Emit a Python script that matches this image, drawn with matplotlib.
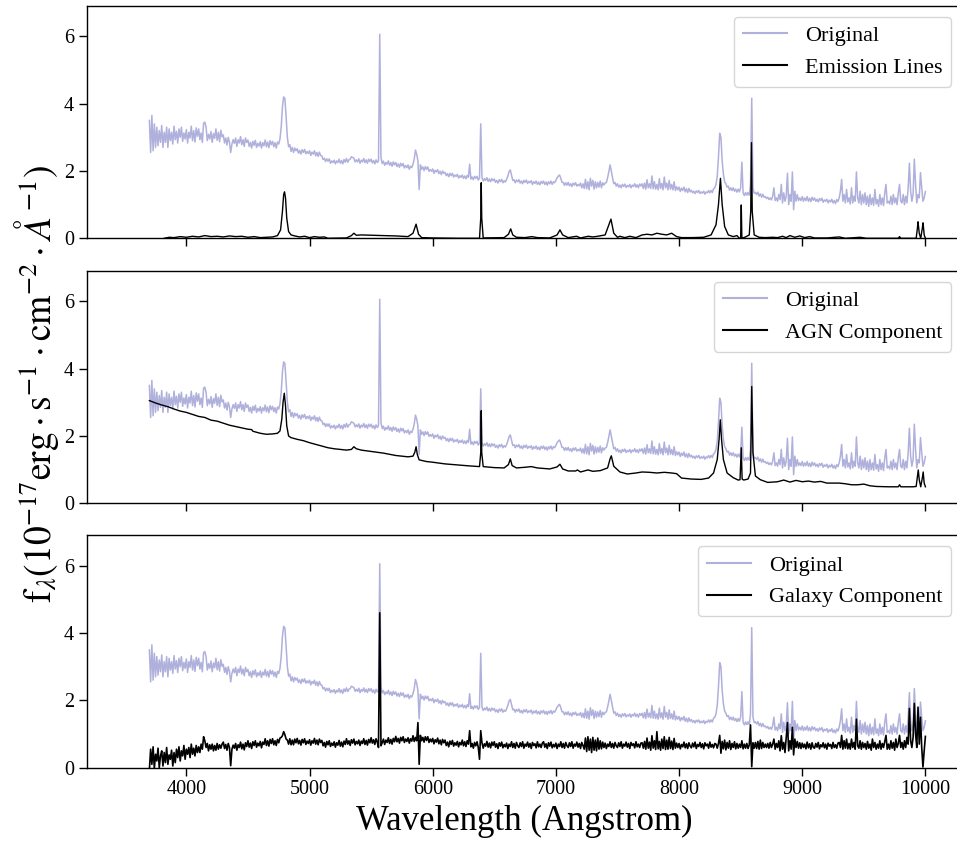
import numpy as np
import matplotlib
matplotlib.use("Agg")
import matplotlib.pyplot as plt

plt.rcParams['font.family'] = ['Liberation Serif', 'DejaVu Serif']
plt.rcParams['mathtext.fontset'] = 'stix'

# ---------------- data ----------------
# wavelength grid of the observed spectrum (Angstrom), 10 A sampling 3700..10000
wave = np.arange(3700, 10001, 10)

original_flux = [
    # 3700-3890
    3.5, 2.55, 3.65, 2.6, 3.4, 2.7, 3.3, 2.75, 3.2, 2.85, 3.35, 2.7, 3.15, 2.85, 3.3, 2.7, 3.25, 2.9, 3.15, 2.8,
    # 3900-4090
    3.33, 2.93, 3.18, 2.83, 3.25, 3.0, 3.3, 2.88, 3.13, 2.95, 3.23, 2.83, 3.15, 2.98, 3.33, 2.9, 3.2, 2.86, 3.28, 3.03,
    # 4100-4290
    3.25, 2.93, 3.13, 2.85, 3.42, 3.45, 3.3, 2.9, 3.09, 2.95, 3.17, 2.85, 3.11, 2.97, 3.25, 2.91, 3.15, 2.87, 3.21, 3.01,
    # 4300-4490
    3.07, 2.83, 2.98, 2.77, 3.0, 2.86, 2.55, 2.8, 2.93, 2.82, 2.98, 2.73, 2.93, 2.83, 3.02, 2.78, 2.93, 2.73, 2.98, 2.85,
    # 4500-4690
    2.92, 2.73, 2.85, 2.68, 2.88, 2.76, 2.91, 2.7, 2.82, 2.74, 2.87, 2.68, 2.84, 2.75, 2.92, 2.72, 2.86, 2.69, 2.9, 2.78,
    # 4700-4890
    2.88, 2.72, 2.84, 2.68, 2.86, 2.8, 2.95, 3.3, 3.9, 4.2, 4.15, 3.6, 3.0, 2.72, 2.78, 2.58, 2.7, 2.55, 2.68, 2.6,
    # 4900-5090
    2.66, 2.53, 2.61, 2.5, 2.63, 2.55, 2.64, 2.51, 2.58, 2.52, 2.6, 2.46, 2.56, 2.5, 2.6, 2.45, 2.55, 2.43, 2.56, 2.46,
    # 5100-5290
    2.45, 2.34, 2.38, 2.28, 2.36, 2.29, 2.36, 2.23, 2.3, 2.25, 2.32, 2.21, 2.3, 2.25, 2.35, 2.23, 2.31, 2.21, 2.34, 2.26,
    # 5300-5490
    2.37, 2.26, 2.33, 2.35, 2.42, 2.4, 2.38, 2.27, 2.33, 2.27, 2.36, 2.23, 2.32, 2.27, 2.37, 2.25, 2.33, 2.23, 2.35, 2.28,
    # 5500-5690
    2.35, 2.24, 2.31, 2.21, 2.33, 2.25, 2.3, 6.06, 2.4, 2.22, 2.29, 2.17, 2.25, 2.2, 2.3, 2.17, 2.25, 2.14, 2.27, 2.18,
    # 5700-5890
    2.25, 2.13, 2.21, 2.11, 2.23, 2.15, 2.22, 2.09, 2.16, 2.1, 2.18, 2.05, 2.14, 2.1, 2.2, 2.35, 2.62, 2.5, 2.3, 1.45,
    # 5900-6090
    2.18, 2.05, 2.12, 2.01, 2.13, 2.05, 2.12, 1.99, 2.04, 1.99, 2.06, 1.93, 2.02, 1.97, 2.04, 1.92, 1.99, 1.89, 2.0, 1.93,
    # 6100-6290
    1.96, 1.86, 1.92, 1.83, 1.93, 1.86, 1.93, 1.82, 1.88, 1.84, 1.9, 1.79, 1.86, 1.81, 1.88, 1.78, 1.85, 1.77, 1.87, 1.81,
    # 6300-6490
    2.2, 1.76, 1.82, 1.74, 1.84, 1.78, 1.84, 1.73, 1.79, 3.4, 1.8, 1.7, 1.77, 1.72, 1.8, 1.69, 1.76, 1.68, 1.77, 1.71,
    # 6500-6690
    1.76, 1.66, 1.72, 1.64, 1.74, 1.68, 1.75, 1.65, 1.71, 1.67, 1.75, 1.85, 1.98, 2.03, 1.88, 1.72, 1.74, 1.65, 1.73, 1.68,
    # 6700-6890
    1.74, 1.64, 1.7, 1.62, 1.72, 1.66, 1.73, 1.63, 1.69, 1.65, 1.71, 1.6, 1.68, 1.63, 1.7, 1.6, 1.67, 1.59, 1.69, 1.63,
    # 6900-7090
    1.7, 1.6, 1.67, 1.58, 1.68, 1.62, 1.7, 1.6, 1.68, 1.65, 1.72, 1.8, 1.85, 1.88, 1.78, 1.66, 1.66, 1.57, 1.65, 1.58,
    # 7100-7290
    1.66, 1.56, 1.62, 1.54, 1.64, 1.58, 1.65, 1.55, 1.6, 1.56, 1.64, 1.5, 1.62, 1.48, 1.75, 1.47, 1.68, 1.44, 1.78, 1.55,
    # 7300-7490
    1.72, 1.46, 1.68, 1.5, 1.66, 1.52, 1.7, 1.5, 1.65, 1.58, 1.64, 1.66, 1.8, 1.98, 2.18, 2.0, 1.8, 1.62, 1.66, 1.55,
    # 7500-7690
    1.62, 1.52, 1.58, 1.5, 1.6, 1.54, 1.61, 1.51, 1.57, 1.53, 1.6, 1.5, 1.58, 1.54, 1.62, 1.52, 1.59, 1.5, 1.61, 1.55,
    # 7700-7890
    1.62, 1.48, 1.64, 1.46, 1.74, 1.5, 1.62, 1.48, 1.85, 1.47, 1.68, 1.46, 1.6, 1.44, 1.77, 1.48, 1.63, 1.44, 1.82, 1.5,
    # 7900-8090
    1.64, 1.44, 1.72, 1.46, 1.6, 1.44, 1.68, 1.42, 1.53, 1.44, 1.52, 1.39, 1.49, 1.42, 1.52, 1.38, 1.47, 1.36, 1.48, 1.38,
    # 8100-8290
    1.43, 1.35, 1.4, 1.33, 1.41, 1.36, 1.42, 1.33, 1.38, 1.34, 1.4, 1.31, 1.38, 1.35, 1.42, 1.35, 1.42, 1.36, 1.47, 1.5,
    # 8300-8490
    1.6, 1.85, 2.4, 3.12, 3.0, 2.3, 1.9, 1.68, 1.62, 1.52, 1.55, 1.43, 1.5, 1.42, 1.5, 1.4, 1.46, 1.37, 1.46, 1.38,
    # 8500-8690
    1.5, 2.26, 1.35, 1.27, 1.36, 1.28, 1.36, 1.28, 1.6, 4.16, 1.5, 1.34, 1.36, 1.3, 1.37, 1.25, 1.32, 1.22, 1.31, 1.22,
    # 8700-8890
    1.24, 1.18, 1.22, 1.15, 1.2, 1.14, 1.25, 1.5, 1.12, 1.2, 1.1, 1.3, 1.15, 1.6, 1.05, 1.35, 1.1, 1.25, 1.93, 1.0,
    # 8900-9090
    1.3, 1.1, 1.97, 0.85, 1.4, 1.1, 1.3, 1.12, 1.2, 1.12, 1.24, 1.1, 1.2, 1.12, 1.24, 1.1, 1.19, 1.09, 1.22, 1.13,
    # 9100-9290
    1.2, 1.1, 1.16, 1.08, 1.18, 1.12, 1.19, 1.07, 1.14, 1.1, 1.16, 1.05, 1.13, 1.08, 1.16, 1.05, 1.12, 1.03, 1.15, 1.09,
    # 9300-9490
    1.2, 1.4, 1.75, 1.1, 1.3, 1.05, 1.45, 1.08, 1.2, 1.02, 1.5, 1.05, 1.25, 1.1, 1.97, 1.2, 1.05, 1.4, 1.0, 1.3,
    # 9500-9690
    1.05, 1.35, 1.0, 1.25, 0.95, 1.3, 1.0, 1.2, 0.98, 1.45, 1.02, 1.15, 0.95, 1.3, 1.0, 1.2, 0.97, 1.35, 1.6, 1.05,
    # 9700-9890
    1.1, 1.02, 1.25, 1.0, 1.3, 1.05, 1.2, 1.0, 1.35, 1.6, 1.1, 1.05, 1.3, 1.0, 1.25, 1.05, 1.5, 2.23, 1.4, 1.1,
    # 9900-10000
    1.3, 2.35, 1.6, 1.05, 1.3, 1.2, 1.95, 1.5, 1.1, 1.2, 1.39,
]

galaxy_flux = [
    # 3700-3890
    -0.05, 0.55, 0.1, 0.62, -0.02, 0.4, 0.2, 0.58, 0.0, 0.35, 0.5, 0.05, 0.45, 0.15, 0.6, 0.1, 0.38, 0.25, 0.52, 0.05,
    # 3900-4090
    0.45, 0.15, 0.55, 0.3, 0.62, 0.2, 0.5, 0.35, 0.66, 0.25, 0.55, 0.4, 0.6, 0.3, 0.7, 0.4, 0.58, 0.35, 0.66, 0.45,
    # 4100-4290
    0.62, 0.45, 0.7, 0.55, 0.92, 0.8, 0.6, 0.72, 0.5, 0.68, 0.55, 0.7, 0.5, 0.66, 0.52, 0.72, 0.55, 0.68, 0.58, 0.7,
    # 4300-4490
    0.76, 0.57, 0.69, 0.52, 0.72, 0.6, 0.06, 0.55, 0.67, 0.58, 0.72, 0.52, 0.68, 0.6, 0.76, 0.56, 0.7, 0.53, 0.74, 0.63,
    # 4500-4690
    0.8, 0.61, 0.73, 0.57, 0.77, 0.66, 0.8, 0.61, 0.73, 0.65, 0.78, 0.59, 0.76, 0.69, 0.86, 0.66, 0.8, 0.64, 0.84, 0.72,
    # 4700-4890
    0.86, 0.68, 0.8, 0.66, 0.84, 0.74, 0.88, 0.9, 0.95, 1.07, 0.98, 0.85, 0.82, 0.7, 0.86, 0.68, 0.82, 0.68, 0.85, 0.74,
    # 4900-5090
    0.87, 0.71, 0.81, 0.67, 0.84, 0.74, 0.86, 0.69, 0.79, 0.72, 0.83, 0.67, 0.8, 0.73, 0.87, 0.7, 0.82, 0.68, 0.85, 0.75,
    # 5100-5290
    0.81, 0.65, 0.75, 0.61, 0.78, 0.68, 0.8, 0.63, 0.73, 0.66, 0.77, 0.61, 0.74, 0.67, 0.81, 0.64, 0.76, 0.62, 0.79, 0.69,
    # 5300-5490
    0.86, 0.7, 0.8, 0.66, 0.83, 0.73, 0.85, 0.68, 0.78, 0.71, 0.82, 0.66, 0.79, 0.72, 0.86, 0.69, 0.81, 0.67, 0.84, 0.74,
    # 5500-5690
    0.89, 0.73, 0.83, 0.69, 0.86, 0.76, 0.6, 4.6, 0.65, 0.74, 0.85, 0.69, 0.82, 0.75, 0.89, 0.72, 0.84, 0.7, 0.87, 0.77,
    # 5700-5890
    0.93, 0.77, 0.87, 0.73, 0.9, 0.8, 0.92, 0.75, 0.85, 0.78, 0.89, 0.73, 0.86, 0.79, 0.95, 0.78, 0.9, 0.8, 1.34, 0.1,
    # 5900-6090
    0.96, 0.8, 0.9, 0.76, 0.92, 0.81, 0.92, 0.75, 0.85, 0.77, 0.87, 0.71, 0.83, 0.76, 0.88, 0.71, 0.82, 0.68, 0.84, 0.74,
    # 6100-6290
    0.82, 0.66, 0.76, 0.62, 0.79, 0.69, 0.81, 0.64, 0.74, 0.67, 0.78, 0.62, 0.75, 0.68, 0.82, 0.65, 0.77, 0.63, 0.8, 0.7,
    # 6300-6490
    1.1, 0.62, 0.72, 0.58, 0.75, 0.65, 0.77, 0.6, 0.25, 1.1, 0.74, 0.58, 0.71, 0.64, 0.78, 0.61, 0.73, 0.59, 0.76, 0.66,
    # 6500-6690
    0.77, 0.61, 0.71, 0.57, 0.74, 0.64, 0.76, 0.59, 0.69, 0.62, 0.73, 0.57, 0.7, 0.63, 0.77, 0.6, 0.72, 0.58, 0.75, 0.65,
    # 6700-6890
    0.6, 0.74, 0.63, 0.77, 0.58, 0.7, 0.64, 0.76, 0.61, 0.72, 0.57, 0.75, 0.66, 0.71, 0.59, 0.77, 0.62, 0.7, 0.6, 0.73,
    # 6900-7090
    0.77, 0.61, 0.71, 0.57, 0.74, 0.64, 0.76, 0.59, 0.69, 0.62, 0.73, 0.57, 0.7, 0.63, 0.77, 0.6, 0.72, 0.58, 0.75, 0.65,
    # 7100-7290
    0.6, 0.74, 0.63, 0.77, 0.58, 0.7, 0.64, 0.76, 0.61, 0.72, 0.57, 0.75, 0.66, 0.55, 0.88, 0.48, 0.92, 0.52, 0.85, 0.45,
    # 7300-7490
    0.9, 0.52, 0.82, 0.5, 0.88, 0.55, 0.8, 0.56, 0.76, 0.6, 0.73, 0.57, 0.7, 0.63, 0.77, 0.6, 0.72, 0.58, 0.75, 0.65,
    # 7500-7690
    0.6, 0.74, 0.63, 0.77, 0.58, 0.7, 0.64, 0.76, 0.61, 0.72, 0.57, 0.75, 0.66, 0.71, 0.59, 0.77, 0.62, 0.7, 0.6, 0.73,
    # 7700-7890
    0.74, 0.58, 0.78, 0.55, 0.88, 0.58, 0.76, 0.52, 0.95, 0.58, 0.8, 0.54, 1.07, 0.56, 0.78, 0.52, 0.85, 0.57, 0.92, 0.54,
    # 7900-8090
    0.82, 0.55, 0.9, 0.57, 0.79, 0.54, 0.87, 0.58, 0.73, 0.6, 0.72, 0.56, 0.69, 0.62, 0.76, 0.59, 0.71, 0.57, 0.74, 0.64,
    # 8100-8290
    0.59, 0.73, 0.62, 0.76, 0.57, 0.69, 0.63, 0.75, 0.6, 0.71, 0.56, 0.74, 0.65, 0.7, 0.58, 0.76, 0.61, 0.69, 0.59, 0.72,
    # 8300-8490
    0.7, 0.58, 0.72, 0.96, 0.43, 0.78, 0.56, 0.82, 0.53, 0.75, 0.58, 0.8, 0.54, 0.72, 0.6, 0.77, 0.56, 0.72, 0.58, 0.7,
    # 8500-8690
    0.6, 0.8, 0.56, 0.7, 0.58, 0.72, 0.57, 0.68, 1.27, 0.03, 0.74, 0.58, 0.75, 0.57, 0.78, 0.55, 0.82, 0.57, 0.75, 0.6,
    # 8700-8890
    0.7, 0.6, 0.72, 0.58, 0.75, 0.6, 0.7, 0.85, 0.55, 0.72, 0.6, 0.8, 0.5, 0.95, 0.55, 0.75, 0.45, 0.9, 1.34, 0.5,
    # 8900-9090
    0.8, 0.55, 1.2, 0.38, 0.85, 0.6, 0.78, 0.58, 0.74, 0.57, 0.73, 0.6, 0.7, 0.56, 0.76, 0.59, 0.71, 0.55, 0.74, 0.6,
    # 9100-9290
    0.58, 0.72, 0.61, 0.75, 0.56, 0.68, 0.62, 0.74, 0.59, 0.7, 0.55, 0.73, 0.64, 0.69, 0.57, 0.75, 0.6, 0.68, 0.58, 0.73,
    # 9300-9490
    0.75, 0.6, 0.96, 0.55, 0.8, 0.58, 0.85, 0.56, 0.72, 0.55, 0.85, 0.6, 0.75, 0.55, 1.44, 0.65, 0.58, 0.8, 0.55, 0.75,
    # 9500-9690
    0.6, 0.72, 0.55, 0.78, 0.58, 0.7, 0.52, 0.85, 0.6, 0.75, 0.55, 0.7, 0.58, 0.8, 0.55, 0.72, 0.6, 0.78, 0.96, 0.55,
    # 9700-9890
    0.7, 0.55, 0.8, 0.58, 0.75, 0.52, 0.85, 0.6, 0.72, 0.96, 0.6, 0.75, 0.55, 0.8, 0.6, 0.9, 0.7, 1.76, 0.8, 0.6,
    # 9900-10000
    0.9, 1.91, 1.0, 0.6, 1.8, 0.7, 1.5, 0.6, 0.02, 0.5, 0.93,
]

agn_wave = [3700, 3750, 3800, 3850, 3900, 3950, 4000, 4050, 4100, 4150, 4200, 4250,
            4300, 4350, 4400, 4450, 4500, 4530, 4540, 4600, 4650, 4700, 4740, 4760,
            4775, 4785, 4795, 4805, 4815, 4830, 4850, 4900, 4950, 5000, 5050, 5100,
            5150, 5200, 5250, 5300, 5340, 5360, 5380, 5420, 5500, 5600, 5700, 5800,
            5840, 5855, 5865, 5875, 5890, 5950, 6000, 6100, 6200, 6300, 6380, 6390,
            6394, 6398, 6410, 6500, 6580, 6615, 6630, 6645, 6680, 6750, 6800, 6850,
            6950, 7010, 7033, 7055, 7100, 7160, 7175, 7200, 7260, 7300, 7360, 7420,
            7440, 7450, 7470, 7520, 7580, 7650, 7700, 7760, 7820, 7880, 7940, 7980,
            8020, 8100, 8180, 8240, 8280, 8310, 8325, 8335, 8345, 8360, 8390, 8440,
            8480, 8495, 8505, 8512, 8525, 8560, 8580, 8585, 8590, 8600, 8620, 8660,
            8720, 8800, 8850, 8900, 8950, 9000, 9050, 9100, 9150, 9200, 9250, 9300,
            9350, 9400, 9450, 9500, 9550, 9600, 9700, 9780, 9790, 9800, 9900, 9925,
            9935, 9942, 9950, 9962, 9975, 9982, 9990, 10000]
agn_flux = [3.05, 2.98, 2.92, 2.87, 2.8, 2.74, 2.7, 2.64, 2.58, 2.55, 2.47, 2.44,
            2.38, 2.32, 2.28, 2.24, 2.2, 2.19, 2.14, 2.08, 2.05, 2.06, 2.08, 2.15,
            2.5, 3.0, 3.27, 2.9, 2.3, 2.0, 1.95, 1.9, 1.86, 1.8, 1.75, 1.7,
            1.65, 1.62, 1.6, 1.58, 1.6, 1.68, 1.62, 1.58, 1.54, 1.49, 1.42, 1.38,
            1.4, 1.52, 1.68, 1.45, 1.29, 1.24, 1.22, 1.17, 1.14, 1.11, 1.09, 1.5,
            2.75, 1.5, 1.09, 1.06, 1.05, 1.15, 1.32, 1.12, 1.05, 1.07, 1.09, 1.05,
            1.02, 1.08, 1.16, 1.02, 0.96, 0.96, 0.99, 0.93, 0.99, 0.95, 0.97, 1.05,
            1.32, 1.41, 1.1, 0.93, 0.87, 0.9, 0.93, 0.92, 0.9, 0.92, 0.9, 0.88,
            0.75, 0.72, 0.71, 0.75, 0.9, 1.3, 1.9, 2.48, 1.9, 1.3, 0.9, 0.76,
            0.69, 0.7, 1.65, 0.72, 0.69, 0.72, 0.9, 2.0, 3.47, 1.5, 0.81, 0.7,
            0.62, 0.64, 0.69, 0.63, 0.68, 0.64, 0.66, 0.63, 0.65, 0.6, 0.6, 0.6,
            0.58, 0.55, 0.55, 0.57, 0.52, 0.5, 0.49, 0.49, 0.55, 0.49, 0.49, 0.5,
            0.8, 0.99, 0.7, 0.49, 0.75, 0.93, 0.6, 0.49]

emis_wave = [3820, 3860, 3900, 3950, 4000, 4050, 4100, 4150, 4200, 4250, 4300, 4350,
             4400, 4450, 4500, 4550, 4600, 4650, 4700, 4740, 4765, 4780, 4790, 4797,
             4805, 4815, 4830, 4850, 4880, 4920, 4960, 5000, 5040, 5080, 5120, 5150,
             5300, 5340, 5360, 5380, 5420, 5500, 5600, 5700, 5800, 5840, 5865, 5885,
             5910, 6000, 6200, 6380, 6390, 6394, 6398, 6410, 6580, 6615, 6633, 6650,
             6680, 6750, 6803, 6850, 6950, 7010, 7033, 7055, 7100, 7168, 7200, 7263,
             7300, 7340, 7400, 7447, 7470, 7500, 7520, 7560, 7600, 7650, 7700, 7740,
             7780, 7820, 7860, 7900, 7940, 7980, 8020, 8100, 8200, 8260, 8300, 8320,
             8336, 8350, 8370, 8400, 8440, 8470, 8490, 8500, 8505, 8510, 8540, 8570,
             8582, 8588, 8594, 8610, 8650, 8700, 8760, 8800, 8840, 8870, 8900, 8940,
             8980, 9020, 9060, 9100, 9200, 9300, 9350, 9470, 9520, 9780, 9790, 9800,
             9925, 9935, 9940, 9950, 9962, 9975, 9981, 9990, 10000]
emis_flux = [0.0, 0.03, 0.02, 0.05, 0.03, 0.06, 0.04, 0.08, 0.05, 0.06, 0.04, 0.07,
             0.05, 0.06, 0.03, 0.05, 0.02, 0.03, 0.04, 0.08, 0.25, 0.8, 1.3, 1.38,
             1.2, 0.6, 0.2, 0.1, 0.07, 0.04, 0.06, 0.02, 0.05, 0.03, 0.04, 0.0,
             0.01, 0.08, 0.15, 0.09, 0.1, 0.09, 0.08, 0.07, 0.05, 0.15, 0.42, 0.12,
             0.02, 0.01, 0.0, 0.0, 0.6, 1.65, 0.6, 0.01, 0.02, 0.12, 0.28, 0.1,
             0.03, 0.02, 0.05, 0.02, 0.01, 0.1, 0.25, 0.1, 0.02, 0.06, 0.01, 0.06,
             0.04, 0.06, 0.1, 0.57, 0.15, 0.03, 0.06, 0.02, 0.06, 0.02, 0.1, 0.12,
             0.1, 0.15, 0.12, 0.1, 0.15, 0.05, 0.02, 0.02, 0.03, 0.1, 0.4, 1.0,
             1.78, 1.0, 0.35, 0.1, 0.05, 0.08, 0.0, 0.0, 0.99, 0.0, 0.04, 0.1,
             0.8, 2.84, 0.8, 0.1, 0.03, 0.02, 0.03, 0.02, 0.06, 0.02, 0.08, 0.03,
             0.07, 0.02, 0.05, 0.01, 0.01, 0.04, 0.0, 0.03, 0.0, 0.0, 0.05, 0.0,
             0.0, 0.3, 0.49, 0.15, 0.0, 0.3, 0.46, 0.1, 0.0]

component_labels = ["Emission Lines", "AGN Component", "Galaxy Component"]
x_ticks = [4000, 5000, 6000, 7000, 8000, 9000, 10000]
y_ticks = [0, 2, 4, 6]

# ---------------- figure ----------------
n_o = min(len(wave), len(original_flux))
n_g = min(len(wave), len(galaxy_flux))

fig = plt.figure(figsize=(9.57, 8.48), dpi=100)
orig_color = '#b0b0dc'
left, width, height = 0.0906, 0.915, 0.2743
bottoms = [0.719, 0.4065, 0.0947]
comps = [(emis_wave, emis_flux), (agn_wave, agn_flux), (wave[:n_g], galaxy_flux[:n_g])]
comp_lw = [1.0, 1.0, 1.2]
axes = []
for i, (b, (cw, cf), lab) in enumerate(zip(bottoms, comps, component_labels)):
    ax = fig.add_axes([left, b, width, height])
    ax.plot(wave[:n_o], original_flux[:n_o], color=orig_color, lw=1.1, label='Original')
    ax.plot(cw, cf, color='black', lw=comp_lw[i], label=lab)
    ax.set_xlim(3191, 10300)
    ax.set_ylim(0, 6.91)
    ax.set_xticks(x_ticks)
    ax.set_yticks(y_ticks)
    ax.tick_params(direction='out', length=5.5, width=1.0, labelsize=14.5)
    ax.spines['right'].set_visible(False)
    for s in ['left', 'top', 'bottom']:
        ax.spines[s].set_linewidth(1.0)
    if i < 2:
        ax.tick_params(labelbottom=False)
    leg = ax.legend(loc='upper right', fontsize=16, framealpha=0.8, fancybox=True)
    leg.get_frame().set_edgecolor('#cccccc')
    for line in leg.get_lines():
        line.set_linewidth(1.5)
    axes.append(ax)

axes[2].set_xlabel('Wavelength (Angstrom)', fontsize=25)
fig.text(0.038, 0.547,
         r'$\mathrm{f}_{\lambda}(10^{-17}\mathrm{erg}\cdot\mathrm{s}^{-1}\cdot\mathrm{cm}^{-2}\cdot\AA^{-1})$',
         rotation=90, fontsize=27, ha='center', va='center')

fig.savefig('out.png', dpi=100)
